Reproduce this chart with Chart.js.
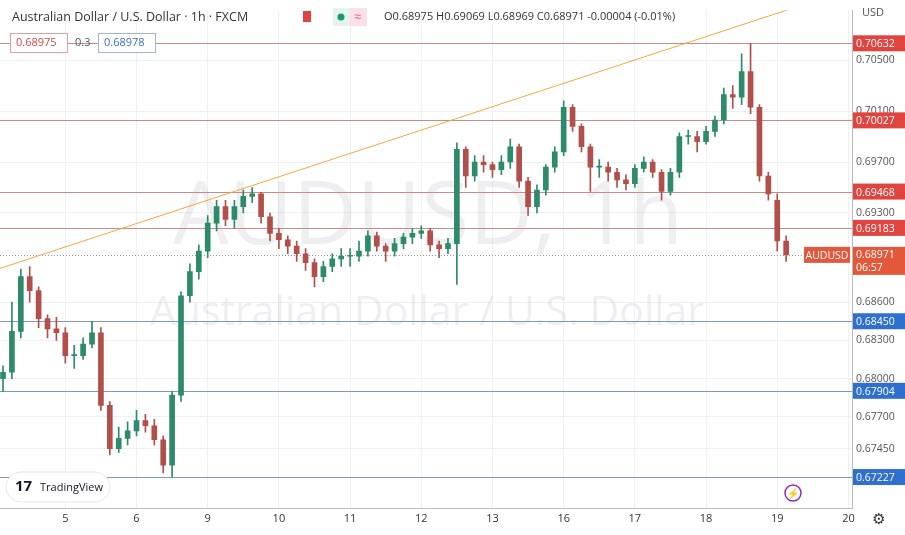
<!DOCTYPE html>
<html>
<head>
<meta charset="utf-8">
<script src="https://cdn.jsdelivr.net/npm/chart.js@4"></script>
<style>
  html, body { margin: 0; padding: 0; background: #fff; }
  #wrap { width: 905px; height: 535px; position: relative; }
</style>
</head>
<body>
<div id="wrap"><canvas id="chart" width="905" height="535"></canvas></div>
<script>
// 3-hour candles, index 0 = day 4 03:00
const opens  = [0.6800,0.6805,0.6837,0.6880,0.6869,0.6847,0.6839,0.6836,0.6818,0.6818,0.6827,0.6836,0.6779,0.6745,0.6753,0.6759,0.6767,0.6763,0.6752,0.6732,0.6787,0.6865,0.6884,0.6900,0.6922,0.6935,0.6925,0.6935,0.6943,0.6945,0.6927,0.6914,0.6909,0.6904,0.6898,0.6891,0.6880,0.6888,0.6894,0.6896,0.6896,0.6900,0.6912,0.6904,0.6900,0.6906,0.6911,0.6914,0.6916,0.6905,0.6902,0.6906,0.6980,0.6959,0.6970,0.6968,0.6964,0.6970,0.6982,0.6955,0.6935,0.6948,0.6966,0.6978,0.7013,0.6998,0.6982,0.6966,0.6966,0.6962,0.6956,0.6953,0.6965,0.6970,0.6962,0.6947,0.6962,0.6990,0.6990,0.6986,0.6994,0.7003,0.7023,0.7021,0.7041,0.7013,0.6959,0.6940,0.6908];
const closes = [0.6805,0.6837,0.6880,0.6869,0.6847,0.6839,0.6836,0.6818,0.6818,0.6827,0.6836,0.6779,0.6745,0.6753,0.6759,0.6767,0.6763,0.6752,0.6732,0.6787,0.6865,0.6884,0.6900,0.6922,0.6935,0.6925,0.6935,0.6943,0.6945,0.6927,0.6914,0.6909,0.6904,0.6898,0.6891,0.6880,0.6888,0.6894,0.6896,0.6896,0.6900,0.6912,0.6904,0.6900,0.6906,0.6911,0.6914,0.6916,0.6905,0.6902,0.6906,0.6980,0.6959,0.6970,0.6968,0.6964,0.6970,0.6982,0.6955,0.6935,0.6948,0.6966,0.6978,0.7013,0.6998,0.6982,0.6966,0.6966,0.6962,0.6956,0.6953,0.6965,0.6970,0.6962,0.6947,0.6962,0.6990,0.6990,0.6986,0.6994,0.7003,0.7023,0.7021,0.7041,0.7013,0.6959,0.6945,0.6908,0.6897];
const highs  = [0.6810,0.6860,0.6886,0.6888,0.6872,0.6850,0.6848,0.6840,0.6826,0.6832,0.6845,0.6840,0.6782,0.6762,0.6766,0.6775,0.6772,0.6768,0.6755,0.6790,0.6868,0.6890,0.6905,0.6928,0.6940,0.6940,0.6940,0.6948,0.6950,0.6946,0.6930,0.6918,0.6912,0.6908,0.6902,0.6894,0.6892,0.6898,0.6902,0.6902,0.6908,0.6916,0.6915,0.6906,0.6910,0.6914,0.6918,0.6920,0.6918,0.6908,0.6910,0.6985,0.6982,0.6975,0.6975,0.6970,0.6975,0.6988,0.6984,0.6958,0.6952,0.6968,0.6982,0.7018,0.7015,0.7000,0.6984,0.6972,0.6970,0.6965,0.6960,0.6968,0.6974,0.6972,0.6964,0.6965,0.6993,0.6995,0.6994,0.6998,0.7006,0.7028,0.7030,0.7055,0.7063,0.7015,0.6962,0.6945,0.6912];
const lows   = [0.6790,0.6800,0.6832,0.6860,0.6840,0.6832,0.6830,0.6812,0.6808,0.6815,0.6824,0.6775,0.6740,0.6742,0.6748,0.6755,0.6758,0.6748,0.6726,0.6723,0.6782,0.6860,0.6878,0.6895,0.6916,0.6920,0.6918,0.6930,0.6938,0.6922,0.6908,0.6902,0.6898,0.6892,0.6885,0.6872,0.6876,0.6884,0.6888,0.6888,0.6892,0.6896,0.6900,0.6892,0.6896,0.6902,0.6906,0.6910,0.6900,0.6895,0.6898,0.6874,0.6950,0.6955,0.6962,0.6958,0.6960,0.6965,0.6950,0.6928,0.6930,0.6944,0.6962,0.6975,0.6994,0.6978,0.6947,0.6958,0.6955,0.6950,0.6948,0.6950,0.6962,0.6958,0.6940,0.6944,0.6958,0.6984,0.6978,0.6984,0.6990,0.7000,0.7012,0.7015,0.7008,0.6955,0.6940,0.6900,0.6892];

const dayTicks  = [7, 15, 23, 31, 39, 47, 55, 63, 71, 79, 87, 95];
const dayLabels = ['5', '6', '9', '10', '11', '12', '13', '16', '17', '18', '19', '20'];
const priceTicks = [0.70500, 0.70100, 0.69700, 0.69300, 0.68600, 0.68300, 0.68000, 0.67700, 0.67450];
const redLevels  = [0.70632, 0.70027, 0.69468, 0.69183];
const blueLevels = [0.68450, 0.67904, 0.67227];
const trendX = [-0.34, 88.4];
const trendY = [0.68865, 0.70900];
const lastPrice = 0.68971;

const UP = '#2d8a6a', DOWN = '#b24f4b';

const bodies = opens.map((o, i) => ({ x: i, y: [o, closes[i]] }));
const wicks = highs.map((h, i) => ({ x: i, y: [lows[i], h] }));
const candleColors = opens.map((o, i) => closes[i] >= o ? UP : DOWN);

const overlay = {
    id: 'overlay',
    beforeDatasetsDraw(chart) {
        const { ctx, chartArea: a, scales: { y } } = chart;
        ctx.save();
        ctx.font = '88px "Open Sans"';
        ctx.fillStyle = 'rgba(150,150,160,0.15)';
        ctx.textAlign = 'center';
        ctx.fillText('AUDUSD, 1h', 428, 244);
        ctx.font = '41px "Open Sans"';
        ctx.fillText('Australian Dollar / U.S. Dollar', 427, 325);
        ctx.lineWidth = 1;
        redLevels.forEach(v => {
            const py = Math.round(y.getPixelForValue(v)) + 0.5;
            ctx.strokeStyle = '#c98a88';
            ctx.beginPath(); ctx.moveTo(a.left, py); ctx.lineTo(a.right, py); ctx.stroke();
        });
        blueLevels.forEach(v => {
            const py = Math.round(y.getPixelForValue(v)) + 0.5;
            ctx.strokeStyle = '#7e97bd';
            ctx.beginPath(); ctx.moveTo(a.left, py); ctx.lineTo(a.right, py); ctx.stroke();
        });
        const ly = Math.round(y.getPixelForValue(lastPrice)) + 0.5;
        ctx.setLineDash([1, 2]);
        ctx.strokeStyle = '#999';
        ctx.beginPath(); ctx.moveTo(a.left, ly); ctx.lineTo(a.right, ly); ctx.stroke();
        ctx.restore();
    },
    afterDraw(chart) {
        const { ctx, chartArea: a, scales: { y } } = chart;
        ctx.save();
        ctx.font = '10.5px "Open Sans"';
        ctx.textBaseline = 'middle';
        const tag = (v, bg, txt) => {
            const py = y.getPixelForValue(v);
            ctx.fillStyle = bg;
            ctx.fillRect(a.right + 1, py - 8, 52, 16);
            ctx.fillStyle = '#fff';
            ctx.textAlign = 'left';
            ctx.fillText(txt, a.right + 4, py + 1);
        };
        redLevels.forEach(v => tag(v, '#e0443f', v.toFixed(5)));
        blueLevels.forEach(v => tag(v, '#2f6fd0', v.toFixed(5)));
        const lp = y.getPixelForValue(lastPrice);
        ctx.fillStyle = '#e3573a';
        ctx.fillRect(a.right + 1, lp - 8, 52, 28);
        ctx.fillRect(a.right - 48, lp - 8, 46, 16);
        ctx.fillStyle = '#fff';
        ctx.fillText('0.68971', a.right + 4, lp);
        ctx.fillText('06:57', a.right + 4, lp + 13);
        ctx.textAlign = 'center';
        ctx.fillText('AUDUSD', a.right - 25, lp + 1);
        // header
        ctx.textAlign = 'left';
        ctx.font = '12.5px "Open Sans"';
        ctx.fillStyle = '#333';
        ctx.fillText('Australian Dollar / U.S. Dollar · 1h · FXCM', 12, 17);
        ctx.fillStyle = '#e0443f';
        ctx.fillRect(303, 11, 8, 11);
        ctx.fillStyle = '#e6f4ef'; ctx.fillRect(333, 8, 34, 18);
        ctx.fillStyle = '#fbe0ea'; ctx.fillRect(350, 8, 17, 18);
        ctx.fillStyle = '#1a9a6b';
        ctx.beginPath(); ctx.arc(341, 17, 3.5, 0, Math.PI * 2); ctx.fill();
        ctx.fillStyle = '#e05a8a'; ctx.fillText('≈', 354, 17);
        ctx.fillStyle = '#333';
        ctx.font = '11px "Open Sans"';
        ctx.fillText('O0.68975 H0.69069 L0.68969 C0.68971 -0.00004 (-0.01%)', 384, 17);
        ctx.strokeStyle = '#e0a0a0'; ctx.fillStyle = '#fff';
        ctx.fillRect(10, 33, 57, 19); ctx.strokeRect(10.5, 33.5, 57, 19);
        ctx.strokeStyle = '#9fb5dd';
        ctx.fillRect(98, 33, 57, 19); ctx.strokeRect(98.5, 33.5, 57, 19);
        ctx.fillStyle = '#d04848'; ctx.fillText('0.68975', 16, 43);
        ctx.fillStyle = '#555'; ctx.fillText('0.3', 75, 43);
        ctx.fillStyle = '#3b6bc4'; ctx.fillText('0.68978', 104, 43);
        ctx.fillStyle = '#555'; ctx.fillText('USD', 862, 13);
        // tradingview badge
        ctx.fillStyle = '#fff';
        ctx.strokeStyle = '#e6e6e6';
        ctx.beginPath(); ctx.roundRect(6, 472, 104, 30, 15); ctx.fill(); ctx.stroke();
        ctx.fillStyle = '#131722';
        ctx.font = 'bold 15px "Open Sans"'; ctx.fillText('17', 15, 487);
        ctx.font = '11px "Open Sans"'; ctx.fillText('TradingView', 40, 488);
        ctx.strokeStyle = '#9c27b0'; ctx.lineWidth = 1.5;
        ctx.beginPath(); ctx.arc(793, 493, 8, 0, Math.PI * 2); ctx.stroke();
        ctx.fillStyle = '#9c27b0'; ctx.font = '10px "Open Sans"'; ctx.textAlign = 'center';
        ctx.fillText('⚡', 793, 494);
        ctx.fillStyle = '#333'; ctx.font = '15px "DejaVu Sans"';
        ctx.fillText('⚙', 879, 520);
        ctx.restore();
    }
};

new Chart(document.getElementById('chart'), {
    type: 'bar',
    data: {
        datasets: [
            {
                type: 'line',
                data: trendX.map((x, i) => ({ x, y: trendY[i] })),
                borderColor: '#f2a93b',
                borderWidth: 1,
                pointRadius: 0,
                order: 3
            },
            {
                data: wicks,
                backgroundColor: candleColors,
                barThickness: 1,
                grouped: false,
                order: 2
            },
            {
                data: bodies,
                backgroundColor: candleColors,
                barThickness: 5,
                minBarLength: 1,
                grouped: false,
                order: 1
            }
        ]
    },
    options: {
        responsive: false,
        animation: false,
        layout: { padding: 0 },
        plugins: { legend: { display: false }, tooltip: { enabled: false } },
        scales: {
            x: {
                type: 'linear',
                offset: false,
                min: -0.34,
                max: 95.4,
                afterFit: s => { s.height = 27; },
                afterBuildTicks: s => { s.ticks = dayTicks.map(v => ({ value: v })); },
                ticks: {
                    callback: v => dayLabels[dayTicks.indexOf(v)],
                    color: '#333',
                    font: { family: 'Open Sans', size: 11 },
                    maxRotation: 0,
                    padding: 4
                },
                grid: { color: '#eef0f3', drawTicks: false, offset: false },
                border: { color: '#bbb' }
            },
            y: {
                position: 'right',
                min: 0.66984,
                max: 0.70891,
                afterFit: s => { s.width = 53; },
                afterBuildTicks: s => { s.ticks = priceTicks.map(v => ({ value: v })); },
                ticks: {
                    callback: v => v.toFixed(5),
                    color: '#555',
                    font: { family: 'Open Sans', size: 10.5 },
                    padding: 4
                },
                grid: { color: '#eef0f3', drawTicks: false },
                border: { color: '#bbb' }
            }
        }
    },
    plugins: [overlay]
});
</script>
</body>
</html>
